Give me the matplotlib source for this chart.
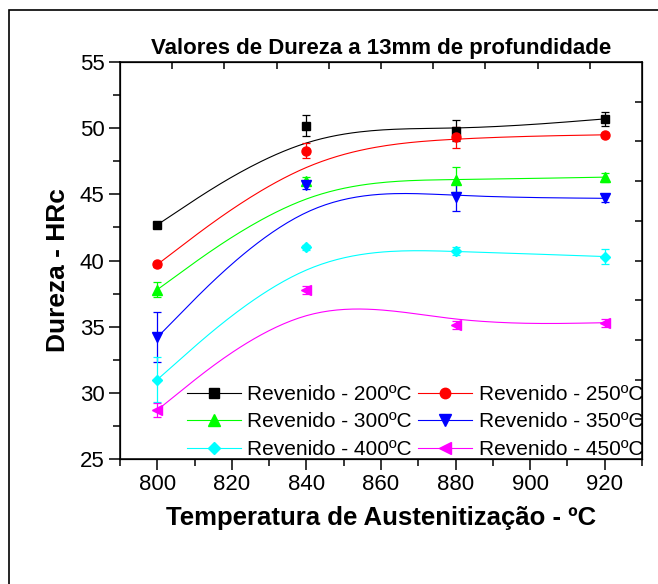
import numpy as np
import matplotlib
matplotlib.use("Agg")
import matplotlib.pyplot as plt
from matplotlib.lines import Line2D
from matplotlib.patches import Rectangle

plt.rcParams['font.family'] = ['Liberation Sans', 'DejaVu Sans']

# temperatura de austenitizacao (C)
temp = [800, 840, 880, 920]

# dureza HRc e desvio para cada revenido
r200 = [42.7, 50.2, 49.8, 50.7]
e200 = [0.15, 0.8, 0.8, 0.5]
r250 = [39.7, 48.3, 49.3, 49.5]
e250 = [0.2, 0.55, 0.8, 0.15]
r300 = [37.8, 46.0, 46.1, 46.3]
e300 = [0.55, 0.3, 0.95, 0.35]
r350 = [34.2, 45.7, 44.8, 44.7]
e350 = [1.9, 0.3, 1.05, 0.3]
r400 = [31.0, 41.0, 40.7, 40.3]
e400 = [1.7, 0.2, 0.3, 0.55]
r450 = [28.7, 37.8, 35.1, 35.3]
e450 = [0.5, 0.3, 0.3, 0.3]

labels = ['Revenido - 200ºC', 'Revenido - 250ºC', 'Revenido - 300ºC',
          'Revenido - 350ºC', 'Revenido - 400ºC', 'Revenido - 450ºC']
series = [(r200, e200), (r250, e250), (r300, e300),
          (r350, e350), (r400, e400), (r450, e450)]
colors = ['#000000', '#ff0000', '#00ff00', '#0000ff', '#00ffff', '#ff00ff']
markers = ['s', 'o', '^', 'v', 'D', '<']
msizes = [6, 6.5, 7.5, 7.5, 5.5, 7.5]


def bspline(x, y, n=40):
    # uniform cubic B-spline, end points tripled so the curve starts/ends on them
    pts = np.column_stack([x, y]).astype(float)
    q = np.vstack([pts[:1], pts[:1], pts, pts[-1:], pts[-1:]])
    t = np.linspace(0, 1, n)[:, None]
    b0 = (1 - t) ** 3 / 6
    b1 = (3 * t ** 3 - 6 * t ** 2 + 4) / 6
    b2 = (-3 * t ** 3 + 3 * t ** 2 + 3 * t + 1) / 6
    b3 = t ** 3 / 6
    segs = [b0 * q[i] + b1 * q[i + 1] + b2 * q[i + 2] + b3 * q[i + 3]
            for i in range(len(q) - 3)]
    return np.vstack(segs)


fig = plt.figure(figsize=(6.58, 5.84), dpi=100)
ax = fig.add_axes([0.1824, 0.2140, 0.7933, 0.6798])

handles = []
for (y, err), c, m, ms, lab in zip(series, colors, markers, msizes, labels):
    curve = bspline(temp, y)
    ax.plot(curve[:, 0], curve[:, 1], color=c, lw=0.8, zorder=2)
    ax.errorbar(temp, y, yerr=err, fmt=m, color=c, ms=ms, mec=c, mfc=c,
                elinewidth=0.9, capsize=3, capthick=0.9, zorder=3)
    handles.append(Line2D([], [], color=c, lw=0.8, marker=m, ms=ms + 1, label=lab))

ax.set_xlim(790, 930)
ax.set_ylim(25, 55)
ax.set_xticks(np.arange(800, 921, 20))
ax.set_xticks(np.arange(790, 931, 20), minor=True)
ax.set_yticks(np.arange(25, 56, 5))
ax.set_yticks(np.arange(27.5, 55, 5), minor=True)
ax.tick_params(which='both', direction='out', width=1.1, labelsize=16,
               top=False, right=False)
ax.tick_params(which='major', length=8, pad=3)
ax.tick_params(which='minor', length=5)
for sp in ax.spines.values():
    sp.set_linewidth(1.1)

# top and right axes: plain inward ticks splitting the frame in ten
top = ax.twiny()
top.set_xlim(0, 1)
top.set_xticks(np.arange(0.1, 0.95, 0.1))
top.tick_params(axis='x', direction='in', length=5, width=1.1, labeltop=False)
right = ax.twinx()
right.set_ylim(0, 1)
right.set_yticks(np.arange(0.1, 0.95, 0.1))
right.tick_params(axis='y', direction='in', length=5, width=1.1, labelright=False)

ax.set_title('Valores de Dureza a 13mm de profundidade', fontsize=16,
             fontweight='bold', pad=6)
ax.set_xlabel('Temperatura de Austenitização - ºC', fontsize=18.5,
              fontweight='bold', labelpad=8)
ax.set_ylabel('Dureza - HRc', fontsize=19, fontweight='bold')
ax.yaxis.set_label_coords(-0.095, 0.476)

# legend filled row by row: 200/250, 300/350, 400/450
order = [0, 2, 4, 1, 3, 5]
ax.legend(handles=[handles[i] for i in order], ncol=2, loc='lower left',
          bbox_to_anchor=(0.12, -0.01), frameon=False, fontsize=15,
          handlelength=2.6, handletextpad=0.3, columnspacing=0.3,
          labelspacing=0.4, borderpad=0.2, borderaxespad=0)

# outer frame of the page
fig.patches.append(Rectangle((9 / 658, -0.1), 1.2, 1.1 - 10 / 584,
                             transform=fig.transFigure, fill=False,
                             lw=1.2, ec='black'))

fig.savefig('out.png', dpi=100)
